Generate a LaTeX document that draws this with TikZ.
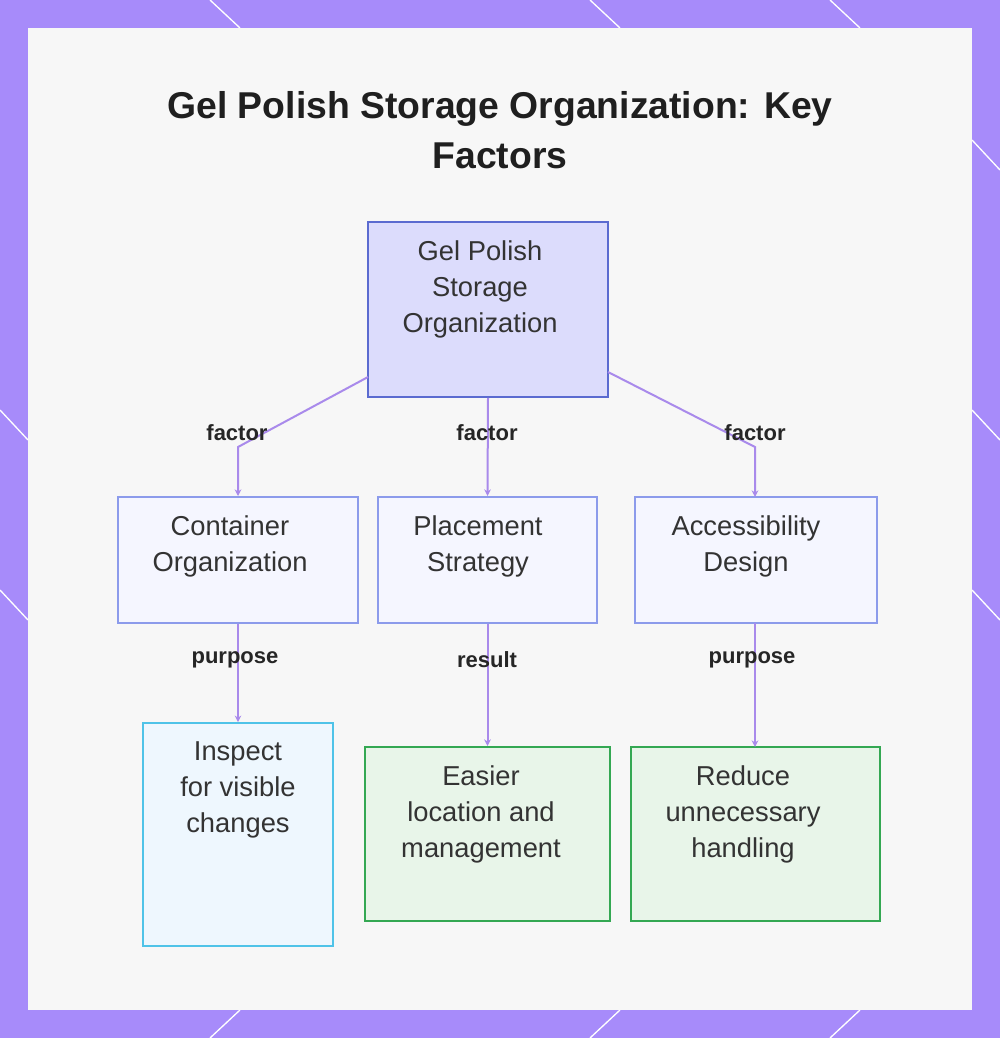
\documentclass[tikz,border=0pt]{standalone}
\usepackage{fontspec}
\setmainfont{Liberation Sans}
\usetikzlibrary{arrows.meta}
\definecolor{frame}{HTML}{A78BFA}
\definecolor{edge}{HTML}{A98AEB}
\definecolor{topd}{HTML}{5B6BD0}\definecolor{topf}{HTML}{DCDCFC}
\definecolor{midd}{HTML}{8C9BEB}\definecolor{midf}{HTML}{F5F6FF}
\definecolor{blud}{HTML}{4FC3E8}\definecolor{bluf}{HTML}{EEF7FE}
\definecolor{grnd}{HTML}{34A853}\definecolor{grnf}{HTML}{E8F5E9}
\begin{document}
\begin{tikzpicture}[x=0.75pt,y=-0.75pt,
 box/.style={draw,line width=1.5pt,inner sep=0},
 txt/.style={font=\fontsize{20.5}{27}\selectfont,text=black!80,align=center,anchor=north},
 lab/.style={font=\bfseries\fontsize{16.5}{18}\selectfont,text=black!85},
 con/.style={draw=edge,line width=1.5pt,-{Stealth[length=5pt,width=5pt]}}]
\useasboundingbox (0,0) rectangle (1000,1038);
\fill[frame] (0,0) rectangle (1000,1038);
\foreach \a/\b/\c/\d in {210/0/240/28, 590/0/620/28, 830/0/860/28, 0/410/28/440, 0/590/28/620, 972/140/1000/170, 972/410/1000/440, 972/590/1000/620, 210/1038/240/1010, 590/1038/620/1010, 830/1038/860/1010}
  \draw[white,line width=1pt] (\a,\b)--(\c,\d);
\fill[white!97!black] (28,28) rectangle (972,1010);
\node[font=\bfseries\fontsize{28}{37}\selectfont,text=black!88,align=center] (title) at (500,130) {Gel Polish Storage Organization: Key\\Factors};
\node[box,draw=topd,fill=topf,minimum width=180pt,minimum height=131pt] (top) at (488,309.5) {};
\node[txt] (topt) at (480,236) {Gel Polish\\Storage\\Organization};
\node[box,draw=midd,fill=midf,minimum width=180pt,minimum height=94.5pt] (co) at (238,560) {};
\node[txt] (cot) at (230,511) {Container\\Organization};
\node[box,draw=midd,fill=midf,minimum width=164pt,minimum height=94.5pt] (pl) at (487.5,560) {};
\node[txt] (plt) at (478,511) {Placement\\Strategy};
\node[box,draw=midd,fill=midf,minimum width=181.5pt,minimum height=94.5pt] (ac) at (756,560) {};
\node[txt] (act) at (746,511) {Accessibility\\Design};
\node[box,draw=blud,fill=bluf,minimum width=142.5pt,minimum height=167pt] (in) at (238,834.5) {};
\node[txt] (int) at (238,737) {Inspect\\for visible\\changes};
\node[box,draw=grnd,fill=grnf,minimum width=184pt,minimum height=130.5pt] (ea) at (487.5,834) {};
\node[txt] (eat) at (481,761) {Easier\\location and\\management};
\node[box,draw=grnd,fill=grnf,minimum width=187pt,minimum height=130.5pt] (re) at (755.5,834) {};
\node[txt] (ret) at (743,761) {Reduce\\unnecessary\\handling};
\coordinate (t1) at (368,377); \coordinate (t3) at (608,372);
\draw[con] (t1) -- (238,447) -- (co.north);
\draw[con] (top.south) -- (pl.north);
\draw[con] (t3) -- (755,447) -- (755,497);
\draw[con] (co.south) -- (in.north);
\draw[con] (pl.south) -- (ea.north);
\draw[con] (755,623) -- (755,747);
\node[lab] (l1) at (237,433) {factor};
\node[lab] (l2) at (487,433) {factor};
\node[lab] (l3) at (755,433) {factor};
\node[lab] (l4) at (235,660) {purpose};
\node[lab] (l5) at (487,660) {result};
\node[lab] (l6) at (752,660) {purpose};
\end{tikzpicture}
\end{document}
